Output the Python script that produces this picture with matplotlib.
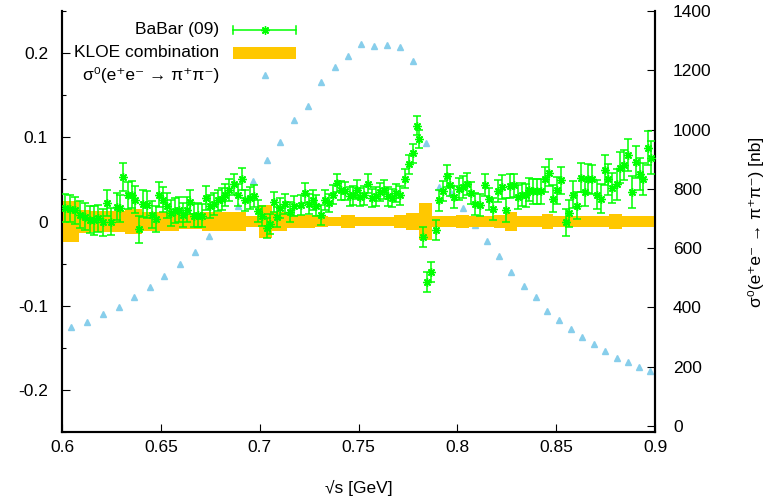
import numpy as np
import matplotlib
matplotlib.use("Agg")
import matplotlib.pyplot as plt

plt.rcParams['font.family'] = ['Liberation Sans', 'DejaVu Sans']
plt.rcParams['font.size'] = 12.5
plt.rcParams['axes.unicode_minus'] = False

########
# BaBar (09) relative difference
bb_x = [0.6015, 0.6040, 0.6066, 0.6090, 0.6116, 0.6142, 0.6160, 0.6184, 0.6206, 0.6230,
        0.6250, 0.6277, 0.6293, 0.6310, 0.6335, 0.6352, 0.6370, 0.6390, 0.6410, 0.6430,
        0.6454, 0.6474, 0.6490, 0.6513, 0.6530, 0.6550, 0.6570, 0.6590, 0.6610, 0.6630,
        0.6650, 0.6667, 0.6690, 0.6710, 0.6730, 0.6750, 0.6767, 0.6790, 0.6810, 0.6825,
        0.6847, 0.6870, 0.6890, 0.6910, 0.6927, 0.6950, 0.6970, 0.6990, 0.7010, 0.7035,
        0.7050, 0.7070, 0.7090, 0.7105, 0.7130, 0.7153, 0.7174, 0.7208, 0.7229, 0.7250,
        0.7270, 0.7287, 0.7310, 0.7330, 0.7350, 0.7370, 0.7390, 0.7410, 0.7430, 0.7456,
        0.7470, 0.7490, 0.7510, 0.7530, 0.7550, 0.7570, 0.7590, 0.7610, 0.7630, 0.7650,
        0.7670, 0.7690, 0.7710, 0.7733, 0.7755, 0.7775, 0.7795, 0.7808, 0.7826, 0.7845,
        0.7865, 0.7890, 0.7906, 0.7926, 0.7946, 0.7962, 0.7985, 0.8007, 0.8027, 0.8047,
        0.8070, 0.8090, 0.8115, 0.8140, 0.8160, 0.8180, 0.8205, 0.8226, 0.8246, 0.8266,
        0.8288, 0.8305, 0.8327, 0.8347, 0.8364, 0.8384, 0.8402, 0.8422, 0.8443, 0.8464,
        0.8486, 0.8506, 0.8526, 0.8548, 0.8565, 0.8587, 0.8604, 0.8624, 0.8645, 0.8661,
        0.8683, 0.8705, 0.8725, 0.8746, 0.8762, 0.8784, 0.8806, 0.8823, 0.8843, 0.8864,
        0.8885, 0.8902, 0.8924, 0.8941, 0.8965, 0.8982]

bb_y = [0.016, 0.015, 0.0135, 0.008, 0.0055, 0.002, 0.0015, 0.004, -0.001, 0.022,
        0.000, 0.0175, 0.016, 0.053, 0.031, 0.032, 0.026, -0.009, 0.021, 0.020,
        0.008, 0.003, 0.032, 0.026, 0.019, 0.010, 0.013, 0.014, 0.008, 0.014,
        0.023, 0.007, 0.008, 0.007, 0.028, 0.018, 0.021, 0.025, 0.027, 0.031,
        0.037, 0.044, 0.032, 0.050, 0.025, 0.028, 0.030, 0.012, 0.007, -0.0075,
        -0.0025, 0.023, 0.0055, 0.016, 0.021, 0.011, 0.018, 0.020, 0.034, 0.021,
        0.026, 0.019, 0.008, 0.026, 0.022, 0.032, 0.046, 0.037, 0.036, 0.030,
        0.031, 0.038, 0.029, 0.031, 0.045, 0.028, 0.030, 0.035, 0.038, 0.030,
        0.028, 0.034, 0.031, 0.051, 0.068, 0.081, 0.114, 0.098, -0.018, -0.072,
        -0.060, -0.010, 0.025, 0.036, 0.054, 0.043, 0.029, 0.039, 0.041, 0.045,
        0.034, 0.021, 0.020, 0.043, 0.027, 0.015, 0.036, 0.041, 0.014, 0.042,
        0.043, 0.029, 0.032, 0.031, 0.038, 0.036, 0.036, 0.036, 0.050, 0.058,
        0.027, 0.037, 0.049, -0.001, 0.010, 0.032, 0.019, 0.052, 0.035, 0.051,
        0.050, 0.032, 0.027, 0.061, 0.050, 0.040, 0.044, 0.064, 0.067, 0.079,
        0.035, 0.071, 0.056, 0.050, 0.087, 0.076]

bb_err = [0.017, 0.016, 0.016, 0.016, 0.016, 0.016, 0.017, 0.016, 0.016, 0.016,
          0.016, 0.016, 0.016, 0.017, 0.016, 0.016, 0.016, 0.016, 0.016, 0.016,
          0.016, 0.016, 0.015, 0.015, 0.015, 0.015, 0.015, 0.015, 0.014, 0.015,
          0.014, 0.014, 0.014, 0.014, 0.014, 0.014, 0.013, 0.013, 0.013, 0.013,
          0.013, 0.013, 0.013, 0.013, 0.013, 0.013, 0.013, 0.013, 0.012, 0.012,
          0.012, 0.012, 0.012, 0.012, 0.012, 0.012, 0.012, 0.012, 0.012, 0.012,
          0.012, 0.012, 0.012, 0.012, 0.011, 0.011, 0.011, 0.011, 0.011, 0.011,
          0.011, 0.011, 0.011, 0.011, 0.011, 0.011, 0.011, 0.011, 0.011, 0.011,
          0.011, 0.011, 0.011, 0.011, 0.011, 0.011, 0.011, 0.011, 0.012, 0.012,
          0.012, 0.012, 0.012, 0.012, 0.013, 0.013, 0.013, 0.013, 0.013, 0.013,
          0.013, 0.013, 0.013, 0.013, 0.013, 0.013, 0.013, 0.014, 0.014, 0.014,
          0.014, 0.014, 0.014, 0.014, 0.014, 0.015, 0.015, 0.015, 0.015, 0.016,
          0.016, 0.016, 0.016, 0.016, 0.016, 0.016, 0.016, 0.017, 0.017, 0.017,
          0.017, 0.017, 0.017, 0.018, 0.018, 0.018, 0.018, 0.018, 0.018, 0.019,
          0.019, 0.019, 0.019, 0.019, 0.020, 0.020]

# KLOE combination band (bin edges, half width)
kloe_edges = [0.6, 0.6086, 0.6142, 0.6218, 0.6319, 0.6406, 0.6592, 0.6707, 0.693, 0.6998,
              0.7061, 0.714, 0.7204, 0.728, 0.7348, 0.741, 0.7483, 0.768, 0.7741, 0.7808,
              0.7871, 0.7994, 0.8061, 0.8183, 0.8243, 0.8301, 0.8426, 0.8486, 0.8595, 0.8718,
              0.8768, 0.8831, 0.8878, 0.8942, 0.9]
kloe_err = [0.024, 0.0135, 0.012, 0.012, 0.0147, 0.011, 0.0095, 0.0115, 0.007, 0.020,
            0.011, 0.0075, 0.0081, 0.006, 0.0055, 0.0083, 0.0055, 0.008, 0.010, 0.022,
            0.006, 0.0083, 0.006, 0.0083, 0.0113, 0.006, 0.009, 0.006, 0.007, 0.006,
            0.009, 0.006, 0.007, 0.006]

# bare cross section [nb]
sig_x = [0.6044, 0.6126, 0.6207, 0.6286, 0.6366, 0.6445, 0.6518, 0.6597, 0.6671, 0.6744,
         0.6818, 0.6892, 0.6964, 0.7036, 0.7103, 0.7174, 0.7245, 0.7312, 0.7382, 0.7449,
         0.7515, 0.7580, 0.7646, 0.7711, 0.7776, 0.7840, 0.7905, 0.7967, 0.8028, 0.8090,
         0.8152, 0.8213, 0.8272, 0.8338, 0.8397, 0.8456, 0.8515, 0.8574, 0.8632, 0.8691,
         0.8748, 0.8807, 0.8864, 0.8920, 0.8977]
sig_y = [333, 352, 379, 403, 436, 468, 507, 547, 588, 642,
         692, 743, 825, 899, 957, 1034, 1081, 1159, 1212, 1248,
         1290, 1282, 1285, 1278, 1233, 954, 808, 786, 735, 679,
         624, 572, 521, 474, 434, 388, 358, 327, 301, 276,
         253, 230, 215, 198, 185]

green = "#00ff00"
gold = "#ffc800"
sky = "#87ceeb"
sig_label = "σ⁰(e⁺e⁻ → π⁺π⁻)"

########
fig = plt.figure(figsize=(7.71, 5.03), dpi=100)
ax = fig.add_axes([62 / 771, 1 - 432 / 503, 593 / 771, 421 / 503])
ax2 = ax.twinx()
ax.set_zorder(ax2.get_zorder() + 1)
ax.patch.set_visible(False)

ax2.plot(sig_x, sig_y, linestyle="none", marker="^", markersize=5, color=sky)

band = np.array(kloe_err + [kloe_err[-1]])
ax.fill_between(kloe_edges, -band, band, step="post", color=gold, linewidth=0, zorder=2)

ax.errorbar(bb_x, bb_y, yerr=bb_err, fmt="none", ecolor=green, elinewidth=1.1,
            capsize=3, capthick=1.1, zorder=3)
ax.plot(bb_x, bb_y, linestyle="none", marker=(8, 2, 0), markersize=6,
        markeredgewidth=1.0, color=green, zorder=4)

ax.set_xlim(0.6, 0.9)
ax.set_ylim(-0.25, 0.25)
ax2.set_ylim(-20, 1400)

ax.set_xticks([0.6, 0.65, 0.7, 0.75, 0.8, 0.85, 0.9])
ax.set_xticklabels(["0.6", "0.65", "0.7", "0.75", "0.8", "0.85", "0.9"])
ax.set_yticks([-0.2, -0.1, 0, 0.1, 0.2])
ax.set_yticklabels(["-0.2", "-0.1", "0", "0.1", "0.2"])
ax.set_yticks([-0.25, -0.15, -0.05, 0.05, 0.15, 0.25], minor=True)
ax2.set_yticks([0, 200, 400, 600, 800, 1000, 1200, 1400])

ax.tick_params(axis="both", which="major", direction="in", length=5.8, width=0.8,
               top=False, right=False)
ax.tick_params(axis="y", which="minor", direction="in", length=3, width=0.8, right=False)
ax.tick_params(axis="y", which="major", pad=10)
ax.tick_params(axis="x", which="major", pad=6)
ax2.tick_params(axis="y", direction="in", length=5.8, width=0.8, pad=13)

for a in (ax, ax2):
    a.spines["top"].set_visible(False)
    for s in ("left", "right", "bottom"):
        a.spines[s].set_linewidth(1.5)

ax.set_xlabel("√s [GeV]", labelpad=18)
ax2.set_ylabel(sig_label + " [nb]", labelpad=26)

# gnuplot-like key: text right aligned, sample on the right
rows = [0.955, 0.901, 0.848]
tx, s0, s1 = 0.2648, 0.2884, 0.3946
sc = (s0 + s1) / 2
ax.text(tx, rows[0], "BaBar (09)", transform=ax.transAxes, ha="right", va="center")
ax.plot([s0, s1], [rows[0], rows[0]], transform=ax.transAxes, color=green, lw=1.1, clip_on=False)
for xe in (s0, s1):
    ax.plot([xe, xe], [rows[0] - 0.01, rows[0] + 0.01], transform=ax.transAxes,
            color=green, lw=1.1, clip_on=False)
ax.plot([sc], [rows[0]], transform=ax.transAxes, marker=(8, 2, 0), markersize=6,
        markeredgewidth=1.0, color=green, clip_on=False)

ax.text(tx, rows[1], "KLOE combination", transform=ax.transAxes, ha="right", va="center")
ax.fill_between([s0, s1], rows[1] - 0.014, rows[1] + 0.014, transform=ax.transAxes,
                color=gold, linewidth=0)

ax.text(tx, rows[2], sig_label, transform=ax.transAxes, ha="right", va="center")
ax.plot([sc], [rows[2]], transform=ax.transAxes, marker="^", markersize=5, color=sky,
        clip_on=False)

plt.savefig("out.png", dpi=100)
